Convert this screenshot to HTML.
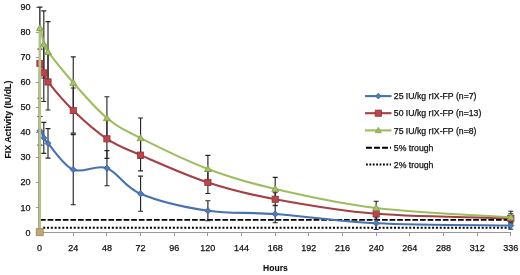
<!DOCTYPE html>
<html><head><meta charset="utf-8"><style>
html,body{margin:0;padding:0;background:#fff;}
body{width:520px;height:275px;overflow:hidden;}
svg{display:block;will-change:transform;filter:blur(0.3px);}
text{font-family:"Liberation Sans",sans-serif;font-size:8.7px;fill:#111;stroke:#111;stroke-width:0.25px;}
.b{font-weight:bold;font-size:8.5px;stroke-width:0.1px;}
.t{font-size:9px;}
</style></head><body>
<svg width="520" height="275" viewBox="0 0 520 275">
<g stroke="#979797" stroke-width="1" fill="none" shape-rendering="crispEdges">
<path d="M39.5,6.5V232.5M36,232.5H511"/>
<path d="M36,232.5H39.5"/>
<path d="M36,207.5H39.5"/>
<path d="M36,182.5H39.5"/>
<path d="M36,157.5H39.5"/>
<path d="M36,132.5H39.5"/>
<path d="M36,107.5H39.5"/>
<path d="M36,82.5H39.5"/>
<path d="M36,57.5H39.5"/>
<path d="M36,32.5H39.5"/>
<path d="M36,7.5H39.5"/>
<path d="M39.5,232.5V236"/>
<path d="M73.5,232.5V236"/>
<path d="M106.5,232.5V236"/>
<path d="M140.5,232.5V236"/>
<path d="M174.5,232.5V236"/>
<path d="M207.5,232.5V236"/>
<path d="M241.5,232.5V236"/>
<path d="M275.5,232.5V236"/>
<path d="M308.5,232.5V236"/>
<path d="M342.5,232.5V236"/>
<path d="M376.5,232.5V236"/>
<path d="M409.5,232.5V236"/>
<path d="M443.5,232.5V236"/>
<path d="M477.5,232.5V236"/>
<path d="M510.5,232.5V236"/>
</g>
<path d="M40,219.9H511" stroke="#000" stroke-width="1.9" stroke-dasharray="5.7,1.9" fill="none"/>
<path d="M43.2,227.8H511" stroke="#000" stroke-width="2" stroke-dasharray="2,1.813" fill="none"/>
<g stroke="#262626" stroke-width="1.15" fill="none"><path d="M39.95,116.54V145.11M37.45,116.54H42.45M37.45,145.11H42.45"/><path d="M43.81,122.30V153.37M41.31,122.30H46.31M41.31,153.37H46.31"/><path d="M48.01,128.57V158.13M45.51,128.57H50.51M45.51,158.13H50.51"/><path d="M73.26,134.58V204.74M70.76,134.58H75.76M70.76,204.74H75.76"/><path d="M106.92,150.62V185.70M104.42,150.62H109.42M104.42,185.70H109.42"/><path d="M140.57,176.17V211.25M138.07,176.17H143.07M138.07,211.25H143.07"/><path d="M207.89,200.73V220.77M205.39,200.73H210.39M205.39,220.77H210.39"/><path d="M275.20,205.24V222.78M272.70,205.24H277.70M272.70,222.78H277.70"/><path d="M376.18,217.02V229.54M373.68,217.02H378.68M373.68,229.54H378.68"/><path d="M510.81,221.78V229.29M508.31,221.78H513.31M508.31,229.29H513.31"/></g>
<g stroke="#262626" stroke-width="1.15" fill="none"><path d="M39.95,28.59V98.25M37.45,28.59H42.45M37.45,98.25H42.45"/><path d="M43.81,44.38V101.51M41.31,44.38H46.31M41.31,101.51H46.31"/><path d="M48.01,53.90V110.03M45.51,53.90H50.51M45.51,110.03H50.51"/><path d="M73.26,87.98V133.08M70.76,87.98H75.76M70.76,133.08H75.76"/><path d="M106.92,119.30V158.38M104.42,119.30H109.42M104.42,158.38H109.42"/><path d="M140.57,139.34V170.91M138.07,139.34H143.07M138.07,170.91H143.07"/><path d="M207.89,171.41V193.46M205.39,171.41H210.39M205.39,193.46H210.39"/><path d="M275.20,192.71V205.74M272.70,192.71H277.70M272.70,205.74H277.70"/><path d="M376.18,208.25V219.27M373.68,208.25H378.68M373.68,219.27H378.68"/><path d="M510.81,213.76V222.78M508.31,213.76H513.31M508.31,222.78H513.31"/></g>
<g stroke="#262626" stroke-width="1.15" fill="none"><path d="M39.95,7.05V49.14M37.45,7.05H42.45M37.45,49.14H42.45"/><path d="M43.81,10.80V77.96M41.31,10.80H46.31M41.31,77.96H46.31"/><path d="M48.01,21.58V82.21M45.51,21.58H50.51M45.51,82.21H50.51"/><path d="M73.26,56.91V108.52M70.76,56.91H75.76M70.76,108.52H75.76"/><path d="M106.92,96.75V139.34M104.42,96.75H109.42M104.42,139.34H109.42"/><path d="M140.57,118.04V158.13M138.07,118.04H143.07M138.07,158.13H143.07"/><path d="M207.89,155.38V182.44M205.39,155.38H210.39M205.39,182.44H210.39"/><path d="M275.20,177.43V200.48M272.70,177.43H277.70M272.70,200.48H277.70"/><path d="M376.18,201.23V214.76M373.68,201.23H378.68M373.68,214.76H378.68"/><path d="M510.81,211.25V223.28M508.31,211.25H513.31M508.31,223.28H513.31"/></g>
<path d="M39.60,232.30 C39.66,215.39 39.25,146.57 39.95,130.82 C40.13,126.82 42.46,135.75 43.81,137.84 C45.15,139.93 45.66,140.81 48.01,143.35 C52.92,148.65 63.44,165.53 73.26,169.66 C83.07,173.79 95.70,164.15 106.92,168.16 C118.13,172.17 123.74,186.61 140.57,193.71 C157.40,200.81 185.45,207.37 207.89,210.75 C230.33,214.13 247.16,211.92 275.20,214.01 C303.25,216.10 336.91,221.36 376.18,223.28 C415.44,225.20 488.37,225.16 510.81,225.53" stroke="#4772B0" stroke-width="2.1" fill="none" stroke-linejoin="round"/>
<g fill="#4D7CBE" stroke="#3B6096" stroke-width="0.8"><path d="M39.95,127.72L43.05,130.82L39.95,133.92L36.85,130.82Z"/><path d="M43.81,134.74L46.91,137.84L43.81,140.94L40.71,137.84Z"/><path d="M48.01,140.25L51.11,143.35L48.01,146.45L44.91,143.35Z"/><path d="M73.26,166.56L76.36,169.66L73.26,172.76L70.16,169.66Z"/><path d="M106.92,165.06L110.02,168.16L106.92,171.26L103.82,168.16Z"/><path d="M140.57,190.61L143.67,193.71L140.57,196.81L137.47,193.71Z"/><path d="M207.89,207.65L210.99,210.75L207.89,213.85L204.79,210.75Z"/><path d="M275.20,210.91L278.30,214.01L275.20,217.11L272.10,214.01Z"/><path d="M376.18,220.18L379.28,223.28L376.18,226.38L373.08,223.28Z"/><path d="M510.81,222.43L513.91,225.53L510.81,228.63L507.71,225.53Z"/></g>
<path d="M39.60,232.30 C39.66,204.15 39.25,89.98 39.95,63.42 C40.09,58.29 42.46,69.85 43.81,72.94 C45.15,76.03 44.94,78.05 48.01,81.96 C52.92,88.23 63.44,101.05 73.26,110.53 C83.07,120.01 95.70,131.41 106.92,138.84 C118.13,146.27 123.74,147.86 140.57,155.13 C157.40,162.39 185.45,175.09 207.89,182.44 C230.33,189.79 247.16,194.01 275.20,199.23 C303.25,204.45 336.91,210.58 376.18,213.76 C415.44,216.93 488.37,217.52 510.81,218.27" stroke="#A63F44" stroke-width="2.1" fill="none" stroke-linejoin="round"/>
<g fill="#BA464D" stroke="#8E3436" stroke-width="0.8"><rect x="36.85" y="60.32" width="6.20" height="6.20"/><rect x="40.71" y="69.84" width="6.20" height="6.20"/><rect x="44.91" y="78.86" width="6.20" height="6.20"/><rect x="70.16" y="107.43" width="6.20" height="6.20"/><rect x="103.82" y="135.74" width="6.20" height="6.20"/><rect x="137.47" y="152.03" width="6.20" height="6.20"/><rect x="204.79" y="179.34" width="6.20" height="6.20"/><rect x="272.10" y="196.13" width="6.20" height="6.20"/><rect x="373.08" y="210.66" width="6.20" height="6.20"/><rect x="507.71" y="215.17" width="6.20" height="6.20"/></g>
<path d="M39.60,232.30 C39.66,198.27 39.25,59.41 39.95,28.09 C40.14,19.73 42.46,40.41 43.81,44.38 C45.15,48.35 45.39,48.48 48.01,51.90 C52.92,58.29 63.44,71.69 73.26,82.72 C83.07,93.74 95.70,108.82 106.92,118.04 C118.13,127.27 123.74,129.61 140.57,138.09 C157.40,146.57 185.45,160.43 207.89,168.91 C230.33,177.39 247.16,182.44 275.20,188.95 C303.25,195.47 336.91,203.28 376.18,208.00 C415.44,212.71 488.37,215.72 510.81,217.27" stroke="#9FBD60" stroke-width="2.1" fill="none" stroke-linejoin="round"/>
<rect x="38.8" y="30" width="2.3" height="202" fill="#B5C08E"/>
<g fill="#A6C266" stroke="#7F9A47" stroke-width="0.8"><path d="M39.95,24.59L43.45,30.72L36.45,30.72Z"/><path d="M43.81,40.88L47.31,47.01L40.31,47.01Z"/><path d="M48.01,48.40L51.51,54.52L44.51,54.52Z"/><path d="M73.26,79.22L76.76,85.34L69.76,85.34Z"/><path d="M106.92,114.54L110.42,120.67L103.42,120.67Z"/><path d="M140.57,134.59L144.07,140.71L137.07,140.71Z"/><path d="M207.89,165.41L211.39,171.53L204.39,171.53Z"/><path d="M275.20,185.45L278.70,191.58L271.70,191.58Z"/><path d="M376.18,204.50L379.68,210.62L372.68,210.62Z"/><path d="M510.81,213.77L514.31,219.89L507.31,219.89Z"/></g>
<rect x="36.2" y="228.7" width="7" height="7" fill="#BBAA74" stroke="#A08458" stroke-width="0.8"/>
<path d="M365,96.10H391.5" stroke="#4772B0" stroke-width="2.1"/>
<g fill="#4D7CBE" stroke="#3B6096" stroke-width="0.8"><path d="M378.30,93.30L381.10,96.10L378.30,98.90L375.50,96.10Z"/></g>
<path d="M365,113.20H391.5" stroke="#A63F44" stroke-width="2.1"/>
<g fill="#BA464D" stroke="#8E3436" stroke-width="0.8"><rect x="375.20" y="110.10" width="6.20" height="6.20"/></g>
<path d="M365,130.40H391.5" stroke="#9FBD60" stroke-width="2.1"/>
<g fill="#A6C266" stroke="#7F9A47" stroke-width="0.8"><path d="M378.30,127.40L381.30,132.65L375.30,132.65Z"/></g>
<path d="M366,147.80H391" stroke="#000" stroke-width="2" stroke-dasharray="6,2"/>
<path d="M366,164.60H391" stroke="#000" stroke-width="2" stroke-dasharray="1.8,1.6"/>
<text x="393.8" y="99.20">25 IU/kg rIX-FP (n=7)</text>
<text x="393.8" y="116.30">50 IU/kg rIX-FP (n=13)</text>
<text x="393.8" y="133.50">75 IU/kg rIX-FP (n=8)</text>
<text x="393.8" y="150.90">5% trough</text>
<text x="393.8" y="167.70">2% trough</text>
<text class="t" x="30.5" y="235.60" text-anchor="end">0</text>
<text class="t" x="30.5" y="210.54" text-anchor="end">10</text>
<text class="t" x="30.5" y="185.49" text-anchor="end">20</text>
<text class="t" x="30.5" y="160.43" text-anchor="end">30</text>
<text class="t" x="30.5" y="135.38" text-anchor="end">40</text>
<text class="t" x="30.5" y="110.32" text-anchor="end">50</text>
<text class="t" x="30.5" y="85.26" text-anchor="end">60</text>
<text class="t" x="30.5" y="60.21" text-anchor="end">70</text>
<text class="t" x="30.5" y="35.15" text-anchor="end">80</text>
<text class="t" x="30.5" y="10.10" text-anchor="end">90</text>
<text class="t" x="39.60" y="251.3" text-anchor="middle">0</text>
<text class="t" x="73.26" y="251.3" text-anchor="middle">24</text>
<text class="t" x="106.92" y="251.3" text-anchor="middle">48</text>
<text class="t" x="140.57" y="251.3" text-anchor="middle">72</text>
<text class="t" x="174.23" y="251.3" text-anchor="middle">96</text>
<text class="t" x="207.89" y="251.3" text-anchor="middle">120</text>
<text class="t" x="241.55" y="251.3" text-anchor="middle">144</text>
<text class="t" x="275.20" y="251.3" text-anchor="middle">168</text>
<text class="t" x="308.86" y="251.3" text-anchor="middle">192</text>
<text class="t" x="342.52" y="251.3" text-anchor="middle">216</text>
<text class="t" x="376.18" y="251.3" text-anchor="middle">240</text>
<text class="t" x="409.83" y="251.3" text-anchor="middle">264</text>
<text class="t" x="443.49" y="251.3" text-anchor="middle">288</text>
<text class="t" x="477.15" y="251.3" text-anchor="middle">312</text>
<text class="t" x="510.81" y="251.3" text-anchor="middle">336</text>
<text class="b" x="275.4" y="270.8" text-anchor="middle">Hours</text>
<text class="b" style="font-size:8.8px" transform="translate(10.9,119.6) rotate(-90)" text-anchor="middle">FIX Activity (IU/dL)</text>
</svg>
</body></html>
